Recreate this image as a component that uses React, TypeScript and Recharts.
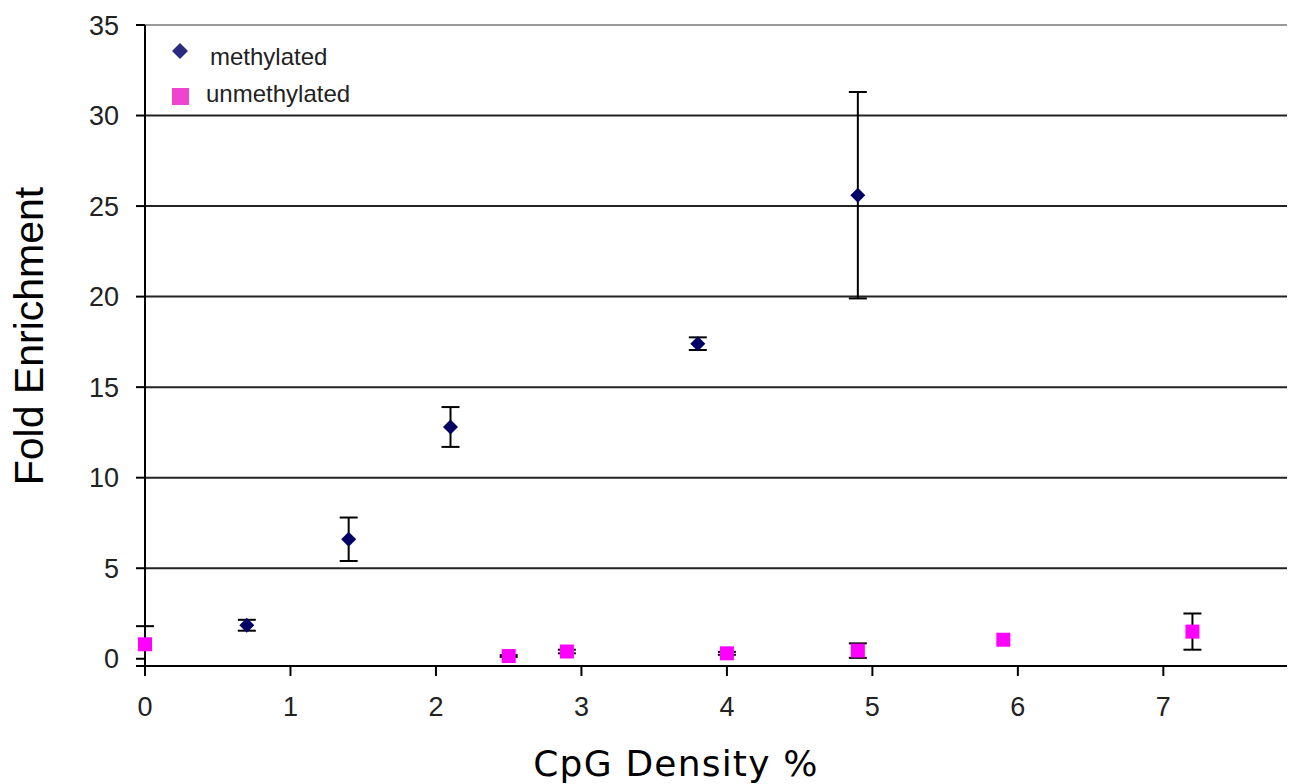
import {
  ScatterChart,
  Scatter,
  XAxis,
  YAxis,
  CartesianGrid,
  ErrorBar,
  ReferenceLine,
  Label,
} from "recharts";

const xTicks = [0, 1, 2, 3, 4, 5, 6, 7];
const yTicks = [0, 5, 10, 15, 20, 25, 30, 35];
const gridLevels = [5, 10, 15, 20, 25, 30];

const methylatedX = [0.7, 1.4, 2.1, 3.8, 4.9];
const methylatedY = [1.85, 6.6, 12.8, 17.4, 25.6];
const methylatedErr = [0.3, 1.2, 1.1, 0.35, 5.7];

const unmethylatedX = [0, 2.5, 2.9, 4.0, 4.9, 5.9, 7.2];
const unmethylatedY = [0.8, 0.15, 0.4, 0.3, 0.45, 1.05, 1.5];
const unmethylatedErr: (number | [number, number])[] = [
  [1.2, 1.0],
  0.05,
  0.1,
  0.08,
  0.4,
  0,
  1.0,
];

const NAVY = "#000066";
const MAGENTA = "#FF00FF";
const FONT = "'Liberation Sans', Arial, sans-serif";

const methylated = methylatedX.map((x, i) => ({
  x,
  y: methylatedY[i],
  err: methylatedErr[i],
}));
const unmethylated = unmethylatedX.map((x, i) => ({
  x,
  y: unmethylatedY[i],
  err: unmethylatedErr[i],
}));

function Diamond(props: any) {
  const { cx, cy } = props;
  const r = 7.5;
  return (
    <polygon
      points={`${cx},${cy - r} ${cx + r},${cy} ${cx},${cy + r} ${cx - r},${cy}`}
      fill={NAVY}
    />
  );
}

function Square(props: any) {
  const { cx, cy } = props;
  const s = 14;
  return <rect x={cx - s / 2} y={cy - s / 2} width={s} height={s} fill={MAGENTA} />;
}

function LegendBox() {
  return (
    <svg
      width={400}
      height={120}
      style={{ position: "absolute", left: 0, top: 0, display: "block" }}
    >
      <polygon points="180,43 188,51 180,59 172,51" fill="#2a2a80" />
      <text x={210} y={65} fontSize={24} fill="#222" fontFamily={FONT}>
        methylated
      </text>
      <rect x={172} y={88} width={17} height={17} fill="#EE44D0" />
      <text x={206} y={102} fontSize={24} fill="#222" fontFamily={FONT}>
        unmethylated
      </text>
    </svg>
  );
}

export default function App() {
  const tickStyle = { fontSize: 27, fill: "#222", fontFamily: FONT };
  return (
    <div style={{ position: "relative", width: 1289, height: 784, background: "#fff" }}>
      <style>{`body{margin:0}`}</style>
      <ScatterChart
        width={1289}
        height={784}
        margin={{ top: 25, right: 2, bottom: 0, left: 0 }}
      >
        <CartesianGrid
          vertical={false}
          horizontalValues={gridLevels}
          stroke="#222"
          strokeWidth={2}
        />
        <ReferenceLine y={35} stroke="#999" strokeWidth={2} />
        <XAxis
          type="number"
          dataKey="x"
          domain={[0, 7.85]}
          ticks={xTicks}
          height={118}
          tickSize={10}
          tickMargin={21}
          tick={tickStyle}
          axisLine={{ stroke: "#000", strokeWidth: 2 }}
          tickLine={{ stroke: "#000", strokeWidth: 2 }}
        >
          <Label
            content={() => (
              <text
                x={676}
                y={776}
                textAnchor="middle"
                fontSize={36}
                letterSpacing={1.2}
                fill="#000"
                fontFamily="'DejaVu Sans', sans-serif"
              >
                CpG Density %
              </text>
            )}
          />
        </XAxis>
        <YAxis
          type="number"
          dataKey="y"
          domain={[0, 35]}
          ticks={yTicks}
          width={145}
          tickSize={9}
          tickMargin={17}
          tick={tickStyle}
          axisLine={{ stroke: "#000", strokeWidth: 2 }}
          tickLine={{ stroke: "#000", strokeWidth: 2 }}
        >
          <Label
            content={() => (
              <text
                x={43}
                y={336}
                transform="rotate(-90 43 336)"
                textAnchor="middle"
                fontSize={41}
                fill="#000"
                fontFamily={FONT}
              >
                Fold Enrichment
              </text>
            )}
          />
        </YAxis>
        <Scatter
          name="methylated"
          data={methylated}
          shape={Diamond}
          isAnimationActive={false}
        >
          <ErrorBar dataKey="err" direction="y" width={9} stroke="#000" strokeWidth={2} />
        </Scatter>
        <Scatter
          name="unmethylated"
          data={unmethylated}
          shape={Square}
          isAnimationActive={false}
        >
          <ErrorBar dataKey="err" direction="y" width={9} stroke="#000" strokeWidth={2} />
        </Scatter>
      </ScatterChart>
      <LegendBox />
    </div>
  );
}
